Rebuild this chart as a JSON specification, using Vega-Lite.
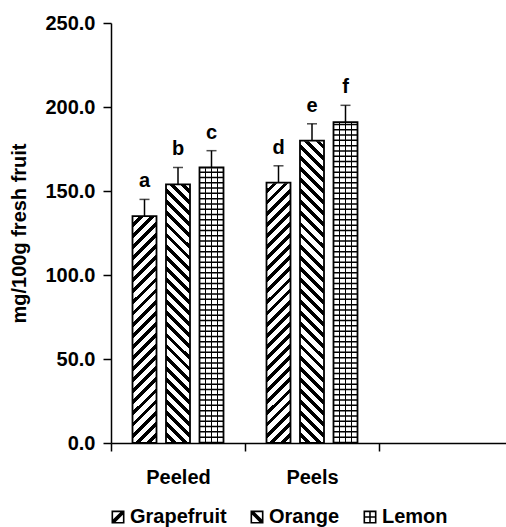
{
  "$schema": "https://vega.github.io/schema/vega-lite/v6.json",
  "autosize": {"type": "none"},
  "padding": {"left": 111, "top": 23, "right": 0, "bottom": 84},
  "width": 395,
  "height": 420,
  "background": "white",
  "config": {"view": {"stroke": null}, "font": "Liberation Sans"},
  "data": {"values": [
    {"part": "Peeled", "fruit": "Grapefruit", "value": 135, "upper": 145, "letter": "a"},
    {"part": "Peeled", "fruit": "Orange", "value": 154, "upper": 164, "letter": "b"},
    {"part": "Peeled", "fruit": "Lemon", "value": 164, "upper": 174, "letter": "c"},
    {"part": "Peels", "fruit": "Grapefruit", "value": 155, "upper": 165, "letter": "d"},
    {"part": "Peels", "fruit": "Orange", "value": 180, "upper": 190, "letter": "e"},
    {"part": "Peels", "fruit": "Lemon", "value": 191, "upper": 201, "letter": "f"}
  ]},
  "encoding": {
    "x": {"field": "part", "type": "nominal",
      "scale": {"domain": ["Peeled", "Peels", " "], "range": [0, 402], "paddingInner": 0, "paddingOuter": 0},
      "axis": {"tickBand": "extent", "tickSize": 8, "tickColor": "black", "tickWidth": 1.5, "domainColor": "black", "domainWidth": 1.5,
        "labelFont": "Liberation Sans", "labelFontSize": 20, "labelFontWeight": "bold", "labelColor": "black", "labelPadding": 16, "labelAngle": 0, "grid": false},
      "title": null},
    "xOffset": {"field": "fruit", "type": "nominal",
      "scale": {"domain": ["Grapefruit", "Orange", "Lemon"], "paddingInner": 0.2836, "paddingOuter": 0.6418}}
  },
  "layer": [
    {
      "transform": [{"filter": "datum.fruit == 'Grapefruit'"}],
      "mark": {"type": "bar", "strokeWidth": 0, "fill": {"gradient": "linear", "x1": 0, "y1": 0, "x2": 0.0602, "y2": 1.0537, "stops": [
        {"offset":0,"color":"#000"},{"offset":0.011,"color":"#000"},{"offset":0.011,"color":"#fff"},{"offset":0.025,"color":"#fff"},
        {"offset":0.025,"color":"#000"},{"offset":0.036,"color":"#000"},{"offset":0.036,"color":"#fff"},{"offset":0.05,"color":"#fff"},
        {"offset":0.05,"color":"#000"},{"offset":0.061,"color":"#000"},{"offset":0.061,"color":"#fff"},{"offset":0.075,"color":"#fff"},
        {"offset":0.075,"color":"#000"},{"offset":0.086,"color":"#000"},{"offset":0.086,"color":"#fff"},{"offset":0.1,"color":"#fff"},
        {"offset":0.1,"color":"#000"},{"offset":0.111,"color":"#000"},{"offset":0.111,"color":"#fff"},{"offset":0.125,"color":"#fff"},
        {"offset":0.125,"color":"#000"},{"offset":0.136,"color":"#000"},{"offset":0.136,"color":"#fff"},{"offset":0.15,"color":"#fff"},
        {"offset":0.15,"color":"#000"},{"offset":0.161,"color":"#000"},{"offset":0.161,"color":"#fff"},{"offset":0.175,"color":"#fff"},
        {"offset":0.175,"color":"#000"},{"offset":0.186,"color":"#000"},{"offset":0.186,"color":"#fff"},{"offset":0.2,"color":"#fff"},
        {"offset":0.2,"color":"#000"},{"offset":0.211,"color":"#000"},{"offset":0.211,"color":"#fff"},{"offset":0.225,"color":"#fff"},
        {"offset":0.225,"color":"#000"},{"offset":0.236,"color":"#000"},{"offset":0.236,"color":"#fff"},{"offset":0.25,"color":"#fff"},
        {"offset":0.25,"color":"#000"},{"offset":0.261,"color":"#000"},{"offset":0.261,"color":"#fff"},{"offset":0.275,"color":"#fff"},
        {"offset":0.275,"color":"#000"},{"offset":0.286,"color":"#000"},{"offset":0.286,"color":"#fff"},{"offset":0.3,"color":"#fff"},
        {"offset":0.3,"color":"#000"},{"offset":0.311,"color":"#000"},{"offset":0.311,"color":"#fff"},{"offset":0.325,"color":"#fff"},
        {"offset":0.325,"color":"#000"},{"offset":0.336,"color":"#000"},{"offset":0.336,"color":"#fff"},{"offset":0.35,"color":"#fff"},
        {"offset":0.35,"color":"#000"},{"offset":0.361,"color":"#000"},{"offset":0.361,"color":"#fff"},{"offset":0.375,"color":"#fff"},
        {"offset":0.375,"color":"#000"},{"offset":0.386,"color":"#000"},{"offset":0.386,"color":"#fff"},{"offset":0.4,"color":"#fff"},
        {"offset":0.4,"color":"#000"},{"offset":0.411,"color":"#000"},{"offset":0.411,"color":"#fff"},{"offset":0.425,"color":"#fff"},
        {"offset":0.425,"color":"#000"},{"offset":0.436,"color":"#000"},{"offset":0.436,"color":"#fff"},{"offset":0.45,"color":"#fff"},
        {"offset":0.45,"color":"#000"},{"offset":0.461,"color":"#000"},{"offset":0.461,"color":"#fff"},{"offset":0.475,"color":"#fff"},
        {"offset":0.475,"color":"#000"},{"offset":0.486,"color":"#000"},{"offset":0.486,"color":"#fff"},{"offset":0.5,"color":"#fff"},
        {"offset":0.5,"color":"#000"},{"offset":0.511,"color":"#000"},{"offset":0.511,"color":"#fff"},{"offset":0.525,"color":"#fff"},
        {"offset":0.525,"color":"#000"},{"offset":0.536,"color":"#000"},{"offset":0.536,"color":"#fff"},{"offset":0.55,"color":"#fff"},
        {"offset":0.55,"color":"#000"},{"offset":0.561,"color":"#000"},{"offset":0.561,"color":"#fff"},{"offset":0.575,"color":"#fff"},
        {"offset":0.575,"color":"#000"},{"offset":0.586,"color":"#000"},{"offset":0.586,"color":"#fff"},{"offset":0.6,"color":"#fff"},
        {"offset":0.6,"color":"#000"},{"offset":0.611,"color":"#000"},{"offset":0.611,"color":"#fff"},{"offset":0.625,"color":"#fff"},
        {"offset":0.625,"color":"#000"},{"offset":0.636,"color":"#000"},{"offset":0.636,"color":"#fff"},{"offset":0.65,"color":"#fff"},
        {"offset":0.65,"color":"#000"},{"offset":0.661,"color":"#000"},{"offset":0.661,"color":"#fff"},{"offset":0.675,"color":"#fff"},
        {"offset":0.675,"color":"#000"},{"offset":0.686,"color":"#000"},{"offset":0.686,"color":"#fff"},{"offset":0.7,"color":"#fff"},
        {"offset":0.7,"color":"#000"},{"offset":0.711,"color":"#000"},{"offset":0.711,"color":"#fff"},{"offset":0.725,"color":"#fff"},
        {"offset":0.725,"color":"#000"},{"offset":0.736,"color":"#000"},{"offset":0.736,"color":"#fff"},{"offset":0.75,"color":"#fff"},
        {"offset":0.75,"color":"#000"},{"offset":0.761,"color":"#000"},{"offset":0.761,"color":"#fff"},{"offset":0.775,"color":"#fff"},
        {"offset":0.775,"color":"#000"},{"offset":0.786,"color":"#000"},{"offset":0.786,"color":"#fff"},{"offset":0.8,"color":"#fff"},
        {"offset":0.8,"color":"#000"},{"offset":0.811,"color":"#000"},{"offset":0.811,"color":"#fff"},{"offset":0.825,"color":"#fff"},
        {"offset":0.825,"color":"#000"},{"offset":0.836,"color":"#000"},{"offset":0.836,"color":"#fff"},{"offset":0.85,"color":"#fff"},
        {"offset":0.85,"color":"#000"},{"offset":0.861,"color":"#000"},{"offset":0.861,"color":"#fff"},{"offset":0.875,"color":"#fff"},
        {"offset":0.875,"color":"#000"},{"offset":0.886,"color":"#000"},{"offset":0.886,"color":"#fff"},{"offset":0.9,"color":"#fff"},
        {"offset":0.9,"color":"#000"},{"offset":0.911,"color":"#000"},{"offset":0.911,"color":"#fff"},{"offset":0.925,"color":"#fff"},
        {"offset":0.925,"color":"#000"},{"offset":0.936,"color":"#000"},{"offset":0.936,"color":"#fff"},{"offset":0.95,"color":"#fff"},
        {"offset":0.95,"color":"#000"},{"offset":0.961,"color":"#000"},{"offset":0.961,"color":"#fff"},{"offset":0.975,"color":"#fff"},
        {"offset":0.975,"color":"#000"},{"offset":0.986,"color":"#000"},{"offset":0.986,"color":"#fff"},{"offset":1,"color":"#fff"}
      ]}},
      "encoding": {
        "y": {"datum": 250, "type": "quantitative", "scale": {"domain": [0, 250], "nice": false},
          "axis": {"values": [0, 50, 100, 150, 200, 250], "format": ".1f", "labelFont": "Liberation Sans", "labelFontSize": 20, "labelFontWeight": "bold", "labelColor": "black", "labelPadding": 8,
            "tickSize": 8, "tickColor": "black", "tickWidth": 1.5, "domainColor": "black", "domainWidth": 1.5, "grid": false,
            "titleFont": "Liberation Sans", "titleFontSize": 20, "titleFontWeight": "bold", "titleColor": "black", "titlePadding": 15},
          "title": "mg/100g fresh fruit"},
        "y2": {"datum": 0}
      }
    },
    {
      "transform": [{"filter": "datum.fruit == 'Orange'"}],
      "mark": {"type": "bar", "strokeWidth": 0, "fill": {"gradient": "linear", "x1": 1, "y1": 0, "x2": 0.9398, "y2": 1.0537, "stops": [
        {"offset":0,"color":"#000"},{"offset":0.011,"color":"#000"},{"offset":0.011,"color":"#fff"},{"offset":0.025,"color":"#fff"},
        {"offset":0.025,"color":"#000"},{"offset":0.036,"color":"#000"},{"offset":0.036,"color":"#fff"},{"offset":0.05,"color":"#fff"},
        {"offset":0.05,"color":"#000"},{"offset":0.061,"color":"#000"},{"offset":0.061,"color":"#fff"},{"offset":0.075,"color":"#fff"},
        {"offset":0.075,"color":"#000"},{"offset":0.086,"color":"#000"},{"offset":0.086,"color":"#fff"},{"offset":0.1,"color":"#fff"},
        {"offset":0.1,"color":"#000"},{"offset":0.111,"color":"#000"},{"offset":0.111,"color":"#fff"},{"offset":0.125,"color":"#fff"},
        {"offset":0.125,"color":"#000"},{"offset":0.136,"color":"#000"},{"offset":0.136,"color":"#fff"},{"offset":0.15,"color":"#fff"},
        {"offset":0.15,"color":"#000"},{"offset":0.161,"color":"#000"},{"offset":0.161,"color":"#fff"},{"offset":0.175,"color":"#fff"},
        {"offset":0.175,"color":"#000"},{"offset":0.186,"color":"#000"},{"offset":0.186,"color":"#fff"},{"offset":0.2,"color":"#fff"},
        {"offset":0.2,"color":"#000"},{"offset":0.211,"color":"#000"},{"offset":0.211,"color":"#fff"},{"offset":0.225,"color":"#fff"},
        {"offset":0.225,"color":"#000"},{"offset":0.236,"color":"#000"},{"offset":0.236,"color":"#fff"},{"offset":0.25,"color":"#fff"},
        {"offset":0.25,"color":"#000"},{"offset":0.261,"color":"#000"},{"offset":0.261,"color":"#fff"},{"offset":0.275,"color":"#fff"},
        {"offset":0.275,"color":"#000"},{"offset":0.286,"color":"#000"},{"offset":0.286,"color":"#fff"},{"offset":0.3,"color":"#fff"},
        {"offset":0.3,"color":"#000"},{"offset":0.311,"color":"#000"},{"offset":0.311,"color":"#fff"},{"offset":0.325,"color":"#fff"},
        {"offset":0.325,"color":"#000"},{"offset":0.336,"color":"#000"},{"offset":0.336,"color":"#fff"},{"offset":0.35,"color":"#fff"},
        {"offset":0.35,"color":"#000"},{"offset":0.361,"color":"#000"},{"offset":0.361,"color":"#fff"},{"offset":0.375,"color":"#fff"},
        {"offset":0.375,"color":"#000"},{"offset":0.386,"color":"#000"},{"offset":0.386,"color":"#fff"},{"offset":0.4,"color":"#fff"},
        {"offset":0.4,"color":"#000"},{"offset":0.411,"color":"#000"},{"offset":0.411,"color":"#fff"},{"offset":0.425,"color":"#fff"},
        {"offset":0.425,"color":"#000"},{"offset":0.436,"color":"#000"},{"offset":0.436,"color":"#fff"},{"offset":0.45,"color":"#fff"},
        {"offset":0.45,"color":"#000"},{"offset":0.461,"color":"#000"},{"offset":0.461,"color":"#fff"},{"offset":0.475,"color":"#fff"},
        {"offset":0.475,"color":"#000"},{"offset":0.486,"color":"#000"},{"offset":0.486,"color":"#fff"},{"offset":0.5,"color":"#fff"},
        {"offset":0.5,"color":"#000"},{"offset":0.511,"color":"#000"},{"offset":0.511,"color":"#fff"},{"offset":0.525,"color":"#fff"},
        {"offset":0.525,"color":"#000"},{"offset":0.536,"color":"#000"},{"offset":0.536,"color":"#fff"},{"offset":0.55,"color":"#fff"},
        {"offset":0.55,"color":"#000"},{"offset":0.561,"color":"#000"},{"offset":0.561,"color":"#fff"},{"offset":0.575,"color":"#fff"},
        {"offset":0.575,"color":"#000"},{"offset":0.586,"color":"#000"},{"offset":0.586,"color":"#fff"},{"offset":0.6,"color":"#fff"},
        {"offset":0.6,"color":"#000"},{"offset":0.611,"color":"#000"},{"offset":0.611,"color":"#fff"},{"offset":0.625,"color":"#fff"},
        {"offset":0.625,"color":"#000"},{"offset":0.636,"color":"#000"},{"offset":0.636,"color":"#fff"},{"offset":0.65,"color":"#fff"},
        {"offset":0.65,"color":"#000"},{"offset":0.661,"color":"#000"},{"offset":0.661,"color":"#fff"},{"offset":0.675,"color":"#fff"},
        {"offset":0.675,"color":"#000"},{"offset":0.686,"color":"#000"},{"offset":0.686,"color":"#fff"},{"offset":0.7,"color":"#fff"},
        {"offset":0.7,"color":"#000"},{"offset":0.711,"color":"#000"},{"offset":0.711,"color":"#fff"},{"offset":0.725,"color":"#fff"},
        {"offset":0.725,"color":"#000"},{"offset":0.736,"color":"#000"},{"offset":0.736,"color":"#fff"},{"offset":0.75,"color":"#fff"},
        {"offset":0.75,"color":"#000"},{"offset":0.761,"color":"#000"},{"offset":0.761,"color":"#fff"},{"offset":0.775,"color":"#fff"},
        {"offset":0.775,"color":"#000"},{"offset":0.786,"color":"#000"},{"offset":0.786,"color":"#fff"},{"offset":0.8,"color":"#fff"},
        {"offset":0.8,"color":"#000"},{"offset":0.811,"color":"#000"},{"offset":0.811,"color":"#fff"},{"offset":0.825,"color":"#fff"},
        {"offset":0.825,"color":"#000"},{"offset":0.836,"color":"#000"},{"offset":0.836,"color":"#fff"},{"offset":0.85,"color":"#fff"},
        {"offset":0.85,"color":"#000"},{"offset":0.861,"color":"#000"},{"offset":0.861,"color":"#fff"},{"offset":0.875,"color":"#fff"},
        {"offset":0.875,"color":"#000"},{"offset":0.886,"color":"#000"},{"offset":0.886,"color":"#fff"},{"offset":0.9,"color":"#fff"},
        {"offset":0.9,"color":"#000"},{"offset":0.911,"color":"#000"},{"offset":0.911,"color":"#fff"},{"offset":0.925,"color":"#fff"},
        {"offset":0.925,"color":"#000"},{"offset":0.936,"color":"#000"},{"offset":0.936,"color":"#fff"},{"offset":0.95,"color":"#fff"},
        {"offset":0.95,"color":"#000"},{"offset":0.961,"color":"#000"},{"offset":0.961,"color":"#fff"},{"offset":0.975,"color":"#fff"},
        {"offset":0.975,"color":"#000"},{"offset":0.986,"color":"#000"},{"offset":0.986,"color":"#fff"},{"offset":1,"color":"#fff"}
      ]}},
      "encoding": {
        "y": {"datum": 250, "type": "quantitative", "title": "mg/100g fresh fruit"},
        "y2": {"datum": 0}
      }
    },
    {
      "transform": [{"filter": "datum.fruit == 'Lemon'"}],
      "mark": {"type": "bar", "strokeWidth": 0, "fill": {"gradient": "linear", "x1": 0, "y1": 0, "x2": 1, "y2": 0, "stops": [
        {"offset":0,"color":"#fff"},{"offset":0.219,"color":"#fff"},{"offset":0.219,"color":"#000"},{"offset":0.281,"color":"#000"},
        {"offset":0.281,"color":"#fff"},{"offset":0.469,"color":"#fff"},{"offset":0.469,"color":"#000"},{"offset":0.531,"color":"#000"},
        {"offset":0.531,"color":"#fff"},{"offset":0.719,"color":"#fff"},{"offset":0.719,"color":"#000"},{"offset":0.781,"color":"#000"},
        {"offset":0.781,"color":"#fff"},{"offset":1,"color":"#fff"}
      ]}},
      "encoding": {
        "y": {"datum": 250, "type": "quantitative", "title": "mg/100g fresh fruit"},
        "y2": {"datum": 0}
      }
    },
    {
      "transform": [{"filter": "datum.fruit == 'Lemon'"}],
      "mark": {"type": "rule", "color": "black", "strokeWidth": 24, "strokeDash": [1.5, 3.8]},
      "encoding": {
        "y": {"datum": 250, "type": "quantitative", "title": "mg/100g fresh fruit"},
        "y2": {"datum": 0}
      }
    },
    {
      "mark": {"type": "bar", "fill": "white", "stroke": "white", "strokeWidth": 1.5},
      "encoding": {
        "y": {"field": "value", "type": "quantitative", "title": "mg/100g fresh fruit"},
        "y2": {"datum": 250}
      }
    },
    {
      "mark": {"type": "bar", "fill": "transparent", "stroke": "black", "strokeWidth": 1.8},
      "encoding": {
        "y": {"field": "value", "type": "quantitative", "title": "mg/100g fresh fruit"}
      }
    },
    {
      "mark": {"type": "rule", "color": "black", "strokeWidth": 1.5},
      "encoding": {
        "y": {"field": "value", "type": "quantitative", "title": "mg/100g fresh fruit"},
        "y2": {"field": "upper"}
      }
    },
    {
      "mark": {"type": "tick", "color": "black", "size": 10, "thickness": 1.5, "orient": "horizontal"},
      "encoding": {
        "y": {"field": "upper", "type": "quantitative", "title": "mg/100g fresh fruit"}
      }
    },
    {
      "mark": {"type": "text", "font": "Liberation Sans", "fontSize": 20, "fontWeight": "bold", "color": "black", "baseline": "alphabetic", "dy": -12},
      "encoding": {
        "y": {"field": "upper", "type": "quantitative", "title": "mg/100g fresh fruit"},
        "text": {"field": "letter"}
      }
    },
    {
      "mark": {"type": "point", "filled": true, "color": "black", "opacity": 0},
      "encoding": {
        "y": {"field": "value", "type": "quantitative", "title": "mg/100g fresh fruit"},
        "shape": {"field": "fruit", "type": "nominal",
          "scale": {"domain": ["Grapefruit", "Orange", "Lemon"],
            "range": [
              "M-1,-1H1V1H-1Z M-0.75,-0.75V0.75H0.75V-0.75Z M-0.75,0.35L0.35,-0.75L0.75,-0.75L0.75,-0.35L-0.35,0.75L-0.75,0.75Z",
              "M-1,-1H1V1H-1Z M-0.75,-0.75V0.75H0.75V-0.75Z M0.75,0.35L-0.35,-0.75L-0.75,-0.75L-0.75,-0.35L0.35,0.75L0.75,0.75Z",
              "M-1,-1H1V1H-1Z M-0.75,-0.75V0.75H0.75V-0.75Z M-0.12,-0.75H0.12V0.75H-0.12Z M-0.75,-0.12H0.75V0.12H-0.75Z"
            ]},
          "legend": {"orient": "none", "legendX": -3, "legendY": 484, "direction": "horizontal", "title": null,
            "labelFont": "Liberation Sans", "labelFontSize": 20, "labelFontWeight": "bold", "labelColor": "black",
            "symbolSize": 169, "symbolStrokeWidth": 0, "symbolOpacity": 1, "symbolFillColor": "black",
            "columnPadding": 20, "labelOffset": 2, "padding": 0}
        }
      }
    }
  ]
}
